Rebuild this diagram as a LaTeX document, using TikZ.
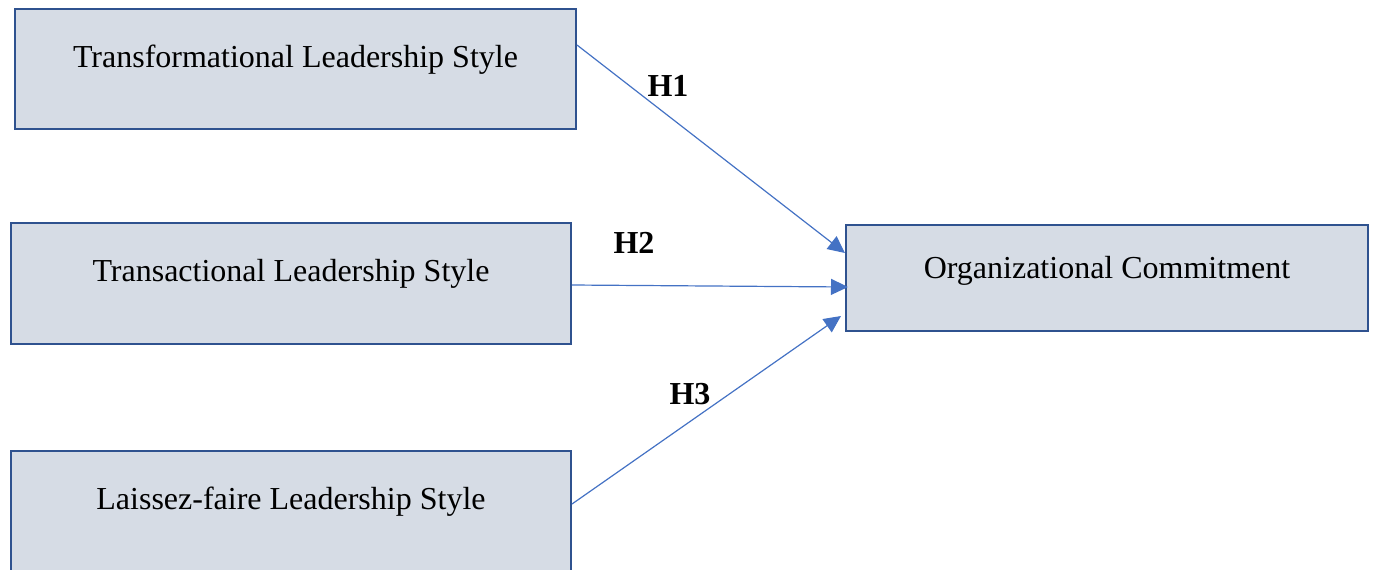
\documentclass[tikz,border=0pt]{standalone}
\usepackage{fontspec}
\setmainfont{Liberation Serif}
\usetikzlibrary{arrows.meta}
\definecolor{boxfill}{RGB}{214,220,229}
\definecolor{boxline}{RGB}{47,82,143}
\definecolor{linkblue}{RGB}{68,114,196}

\begin{document}
\begin{tikzpicture}[x=0.5pt, y=-0.5pt,
                    varbox/.style={draw=boxline, line width=1pt, fill=boxfill, anchor=north west, inner sep=0pt, font=\fontsize{16}{19}\selectfont},
                    hyp/.style={font=\fontsize{16}{19}\selectfont\bfseries},
                    link/.style={draw=linkblue, line width=0.6pt, -{Triangle[length=8.5pt, width=8pt]}}]
                    \useasboundingbox (0,0) rectangle (1373,569);
                    \clip (0,0) rectangle (1373,569);

                    \node[varbox, minimum width=280.5pt, minimum height=60pt, text height=29pt, text depth=31pt] (TF) at (14,8) {Transformational Leadership Style};
                    \node[varbox, minimum width=280pt, minimum height=60.5pt, text height=29pt, text depth=31.5pt] (TS) at (10,222) {Transactional Leadership Style};
                    \node[varbox, minimum width=280pt, minimum height=75pt, text height=29pt, text depth=46pt] (LF) at (10,450) {Laissez-faire Leadership Style};
                    \node[varbox, minimum width=261pt, minimum height=53pt, text height=26.5pt, text depth=26.5pt] (OC) at (845,224) {Organizational Commitment};

                    \draw[link] ([yshift=-18.5pt]TF.north east) -- ([yshift=-14.5pt]OC.north west);
                    \draw[link] ([yshift=-0.75pt]TS.east) -- ([xshift=1.5pt, yshift=-4.5pt]OC.west);
                    \draw[link] ([yshift=-27pt]LF.north east) -- ([xshift=-2pt, yshift=-46pt]OC.north west);

                    \node[hyp] (H1) at (668,86) {H1};
                    \node[hyp] (H2) at (634,243) {H2};
                    \node[hyp] (H3) at (690,394) {H3};
                \end{tikzpicture}
\end{document}
